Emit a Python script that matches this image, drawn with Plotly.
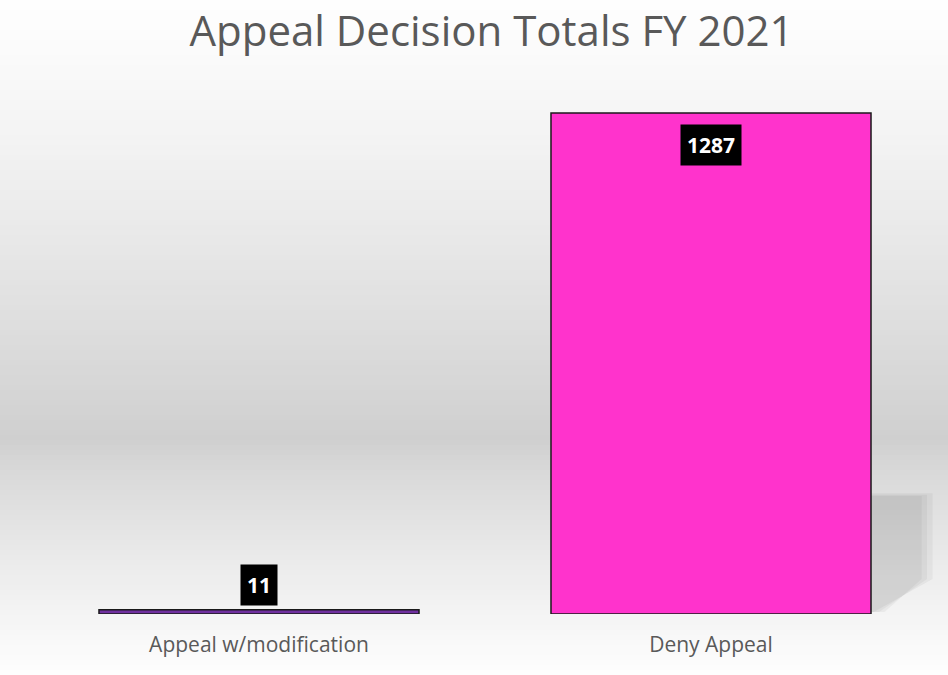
import plotly.graph_objects as go

categories = ["Appeal w/modification", "Deny Appeal"]
values = [11, 1287]
bar_colors = ["#7030A0", "#FF33CC"]
title_text = "Appeal Decision Totals FY 2021"

W, H = 948, 675
L, R, T, B = 33, 11, 69, 61
pw, ph = W - L - R, H - T - B

fig = go.Figure()
fig.add_trace(go.Bar(
    x=categories, y=values,
    marker=dict(color=bar_colors, line=dict(color="#1a1a1a", width=1.5)),
    width=0.708, hoverinfo="skip",
))

shapes = []
def px2paper_y(py):
    return (H - B - py) / ph
def px2paper_x(px):
    return (px - L) / pw

def gray_at(py):
    top, mid, bot = 254, 207, 254
    if py <= 440:
        v = top + (mid - top) * (py / 440) ** 1.25
    else:
        v = mid + (bot - mid) * ((py - 440) / (H - 440)) ** 0.8
    return int(round(v))

step = 5
for py in range(0, H, step):
    g = gray_at(py + step / 2)
    shapes.append(dict(
        type="rect", xref="paper", yref="paper", layer="below",
        x0=px2paper_x(0), x1=px2paper_x(W),
        y0=px2paper_y(py + step + 0.5), y1=px2paper_y(py),
        fillcolor=f"rgb({g},{g},{g})", line=dict(width=0),
    ))

# soft shadow to the right of the tall bar
for i, a in enumerate([0.06, 0.06, 0.06]):
    off = i * 0.012
    shapes.append(dict(
        type="path", xref="x", yref="y", layer="below",
        path=(f"M {1 + 0.354},{310 - off*300} L {1.49 - off},{310 - off*300} "
              f"L {1.49 - off},{90} L {1.36 + off},{5} L {1 + 0.354},{5} Z"),
        fillcolor=f"rgba(60,60,60,{a})", line=dict(width=0),
    ))

lab_font = dict(color="white", size=21, family="Open Sans")
annotations = [
    dict(x=categories[1], y=values[1], text=f"<b>{values[1]}</b>", showarrow=False,
         yanchor="top", yshift=-11, bgcolor="black", font=lab_font, borderpad=6),
    dict(x=categories[0], y=values[0], text=f"<b>{values[0]}</b>", showarrow=False,
         yanchor="bottom", yshift=4, bgcolor="black", font=lab_font, borderpad=6),
]

fig.update_layout(
    width=W, height=H,
    margin=dict(l=L, r=R, t=T, b=B),
    paper_bgcolor="white", plot_bgcolor="rgba(0,0,0,0)",
    title=dict(text=title_text, xref="container", x=491.5 / W, xanchor="center",
               y=1 - 31 / H, yanchor="middle",
               font=dict(size=42, color="#595959", family="Open Sans")),
    xaxis=dict(showgrid=False, showline=False, ticks="",
               tickfont=dict(size=21, color="#595959", family="Open Sans"),
               ticklabelstandoff=16, range=[-0.5, 1.5]),
    yaxis=dict(visible=False, range=[0, 1400], showgrid=False),
    shapes=shapes, annotations=annotations,
    showlegend=False, bargap=0.29,
)

fig.write_html("out.html", config={"displayModeBar": False},
               post_script="document.body.style.margin='0';")
